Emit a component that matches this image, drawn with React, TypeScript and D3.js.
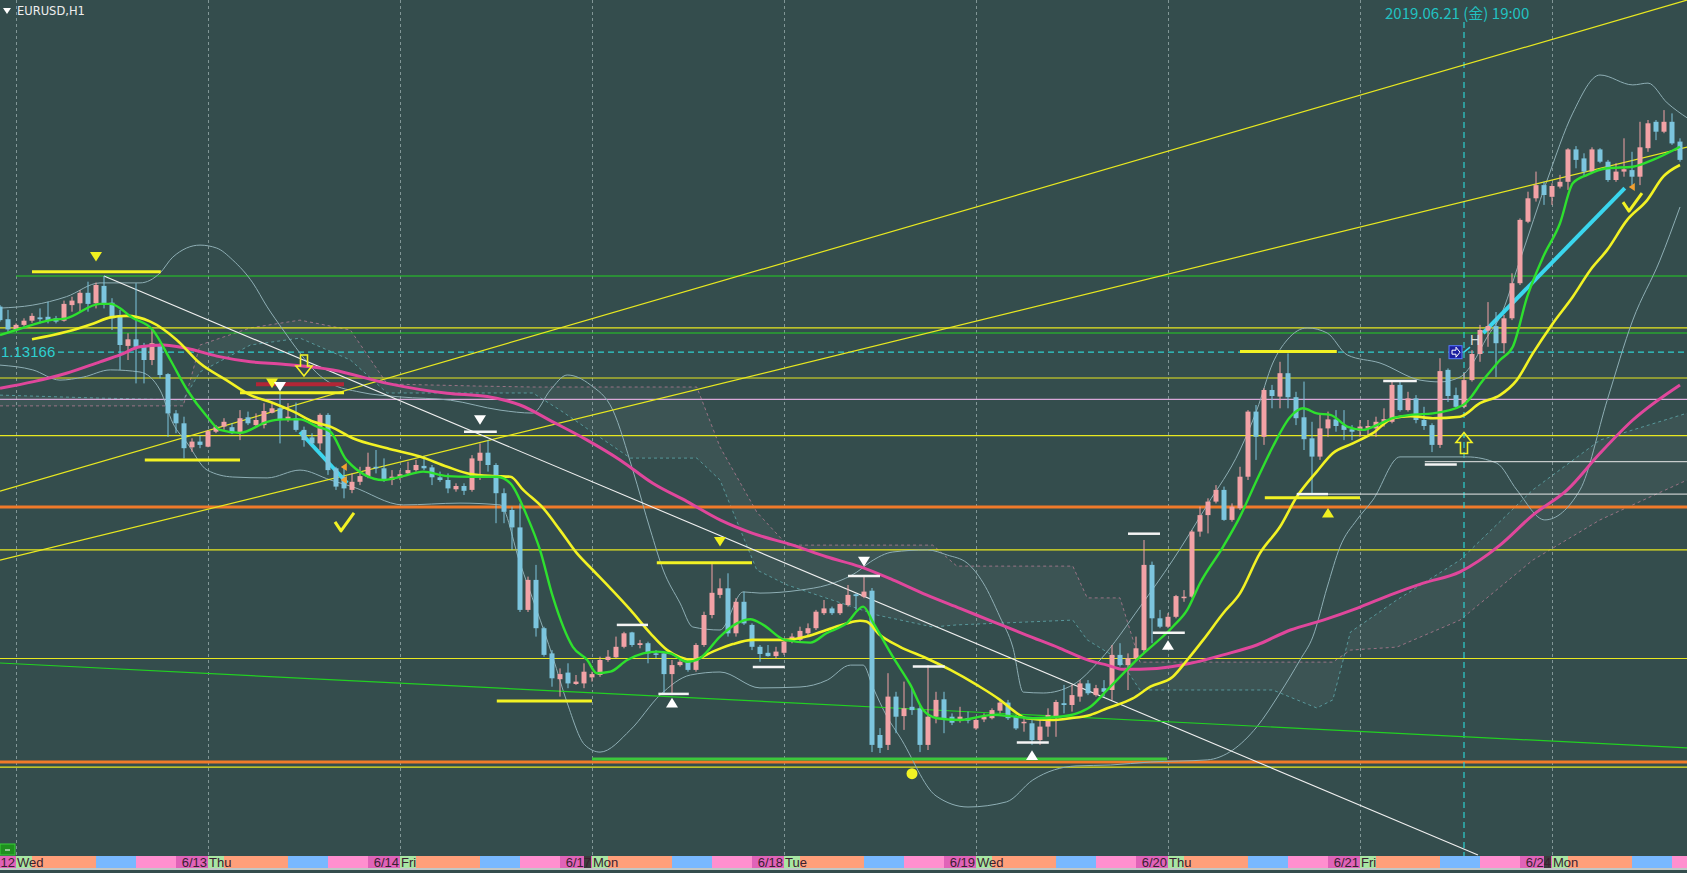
import * as d3 from 'd3';

const W = 1687;
const H = 873;
const PLOT_B = 856;
const FIRST_BAR = -2;

// O, H, L, C per hourly bar, starting at bar -2
const CANDLES: [number, number, number, number][] = [
  [1.13318,1.13323,1.13268,1.13273],[1.13276,1.13307,1.13234,1.13242],[1.13242,1.13262,1.13240,1.13257],
  [1.13257,1.13279,1.13251,1.13271],[1.13271,1.13296,1.13264,1.13287],[1.13282,1.13312,1.13262,1.13276],
  [1.13284,1.13334,1.13262,1.13273],[1.13279,1.13287,1.13262,1.13268],[1.13271,1.13338,1.13268,1.13327],
  [1.13323,1.13351,1.13301,1.13338],[1.13329,1.13373,1.13301,1.13364],[1.13364,1.13401,1.13301,1.13327],
  [1.13329,1.13398,1.13312,1.13390],[1.13387,1.13420,1.13312,1.13327],[1.13331,1.13346,1.13240,1.13279],
  [1.13284,1.13307,1.13107,1.13190],[1.13187,1.13229,1.13140,1.13209],[1.13209,1.13396,1.13062,1.13184],
  [1.13190,1.13197,1.13062,1.13140],[1.13140,1.13240,1.13123,1.13196],[1.13193,1.13196,1.13079,1.13090],
  [1.13093,1.13096,1.12884,1.12962],[1.12962,1.12973,1.12896,1.12929],[1.12929,1.12951,1.12812,1.12846],
  [1.12849,1.12879,1.12834,1.12868],[1.12868,1.12887,1.12846,1.12857],[1.12851,1.12907,1.12849,1.12903],
  [1.12901,1.12923,1.12896,1.12918],[1.12918,1.12946,1.12907,1.12934],[1.12916,1.12929,1.12893,1.12896],
  [1.12896,1.12973,1.12873,1.12946],[1.12949,1.12968,1.12923,1.12929],[1.12923,1.12962,1.12918,1.12940],
  [1.12923,1.12996,1.12912,1.12970],[1.12964,1.13001,1.12962,1.12979],[1.12979,1.13029,1.12862,1.12940],
  [1.12940,1.12996,1.12934,1.12951],[1.12946,1.12998,1.12901,1.12907],[1.12907,1.12918,1.12851,1.12873],
  [1.12882,1.12896,1.12857,1.12862],[1.12862,1.12962,1.12840,1.12957],[1.12957,1.12963,1.12757,1.12773],
  [1.12779,1.12784,1.12707,1.12718],[1.12751,1.12784,1.12679,1.12712],[1.12707,1.12762,1.12696,1.12734],
  [1.12734,1.12784,1.12723,1.12753],[1.12751,1.12831,1.12746,1.12784],[1.12784,1.12840,1.12762,1.12779],
  [1.12779,1.12812,1.12734,1.12740],[1.12740,1.12773,1.12723,1.12751],[1.12748,1.12773,1.12740,1.12759],
  [1.12762,1.12801,1.12757,1.12773],[1.12773,1.12807,1.12768,1.12790],[1.12787,1.12820,1.12773,1.12779],
  [1.12782,1.12790,1.12723,1.12749],[1.12749,1.12768,1.12734,1.12740],[1.12740,1.12762,1.12696,1.12712],
  [1.12709,1.12729,1.12701,1.12720],[1.12720,1.12729,1.12690,1.12704],[1.12707,1.12823,1.12701,1.12812],
  [1.12804,1.12862,1.12740,1.12831],[1.12831,1.12873,1.12768,1.12790],[1.12790,1.12796,1.12596,1.12696],
  [1.12696,1.12712,1.12596,1.12634],[1.12640,1.12651,1.12507,1.12582],[1.12582,1.12662,1.12300,1.12307],
  [1.12307,1.12418,1.12300,1.12407],[1.12407,1.12457,1.12218,1.12246],[1.12246,1.12251,1.12151,1.12157],
  [1.12162,1.12173,1.12051,1.12079],[1.12076,1.12112,1.12018,1.12093],[1.12098,1.12129,1.12046,1.12062],
  [1.12060,1.12090,1.12057,1.12068],[1.12062,1.12129,1.12046,1.12101],[1.12082,1.12101,1.12068,1.12093],
  [1.12090,1.12151,1.12084,1.12140],[1.12140,1.12173,1.12134,1.12151],[1.12149,1.12218,1.12146,1.12184],
  [1.12184,1.12234,1.12179,1.12229],[1.12232,1.12234,1.12184,1.12190],[1.12190,1.12207,1.12179,1.12196],
  [1.12196,1.12201,1.12129,1.12162],[1.12162,1.12173,1.12146,1.12157],[1.12162,1.12168,1.12029,1.12093],
  [1.12093,1.12140,1.12023,1.12123],[1.12123,1.12149,1.12118,1.12134],[1.12138,1.12146,1.12101,1.12107],
  [1.12107,1.12196,1.12101,1.12190],[1.12190,1.12301,1.12184,1.12290],[1.12290,1.12462,1.12279,1.12364],
  [1.12357,1.12412,1.12346,1.12379],[1.12379,1.12429,1.12218,1.12229],[1.12229,1.12346,1.12218,1.12334],
  [1.12334,1.12368,1.12257,1.12262],[1.12257,1.12262,1.12173,1.12184],[1.12184,1.12190,1.12134,1.12160],
  [1.12164,1.12190,1.12151,1.12153],[1.12153,1.12184,1.12146,1.12168],[1.12164,1.12212,1.12157,1.12201],
  [1.12201,1.12229,1.12196,1.12218],[1.12207,1.12251,1.12201,1.12237],[1.12229,1.12262,1.12223,1.12246],
  [1.12246,1.12307,1.12240,1.12301],[1.12296,1.12340,1.12290,1.12312],[1.12312,1.12318,1.12290,1.12296],
  [1.12296,1.12329,1.12290,1.12327],[1.12323,1.12390,1.12318,1.12357],[1.12359,1.12362,1.12307,1.12353],
  [1.12351,1.12418,1.12346,1.12368],[1.12371,1.12380,1.11833,1.11857],[1.11890,1.11913,1.11830,1.11847],
  [1.11857,1.12096,1.11840,1.12018],[1.12018,1.12034,1.11896,1.11951],[1.11953,1.12068,1.11907,1.11979],
  [1.11984,1.12047,1.11957,1.11973],[1.11979,1.11987,1.11833,1.11857],[1.11857,1.12123,1.11840,1.11951],
  [1.11951,1.12034,1.11929,1.12007],[1.12009,1.12034,1.11896,1.11942],[1.11951,1.11962,1.11923,1.11931],
  [1.11940,1.11984,1.11931,1.11951],[1.11946,1.11968,1.11929,1.11938],[1.11912,1.11946,1.11907,1.11940],
  [1.11942,1.11962,1.11933,1.11951],[1.11946,1.11979,1.11942,1.11973],[1.11971,1.12007,1.11962,1.11998],
  [1.11998,1.12007,1.11940,1.11946],[1.11951,1.11957,1.11907,1.11912],[1.11929,1.11946,1.11901,1.11934],
  [1.11929,1.11940,1.11857,1.11873],[1.11873,1.11940,1.11857,1.11918],[1.11918,1.11979,1.11884,1.11957],
  [1.11950,1.12007,1.11884,1.12000],[1.11996,1.12057,1.11962,1.11990],[1.11990,1.12057,1.11968,1.12023],
  [1.12018,1.12073,1.12001,1.12062],[1.12062,1.12073,1.12023,1.12029],[1.12023,1.12057,1.12018,1.12046],
  [1.12046,1.12073,1.12018,1.12034],[1.12040,1.12190,1.12007,1.12157],[1.12157,1.12196,1.12118,1.12123],
  [1.12123,1.12162,1.12040,1.12146],[1.12146,1.12218,1.12140,1.12179],[1.12173,1.12540,1.12162,1.12457],
  [1.12457,1.12468,1.12196,1.12279],[1.12279,1.12307,1.12246,1.12251],[1.12251,1.12296,1.12246,1.12284],
  [1.12284,1.12357,1.12279,1.12353],[1.12346,1.12373,1.12334,1.12351],[1.12351,1.12573,1.12346,1.12568],
  [1.12568,1.12651,1.12551,1.12623],[1.12623,1.12679,1.12562,1.12668],[1.12668,1.12723,1.12662,1.12707],
  [1.12707,1.12718,1.12604,1.12607],[1.12607,1.12662,1.12601,1.12651],[1.12646,1.12784,1.12640,1.12751],
  [1.12751,1.12973,1.12740,1.12968],[1.12968,1.12990,1.12807,1.12884],[1.12884,1.13046,1.12857,1.13040],
  [1.13040,1.13057,1.12979,1.13020],[1.13018,1.13134,1.12979,1.13096],[1.13096,1.13162,1.12979,1.13016],
  [1.13016,1.13034,1.12923,1.12946],[1.12949,1.13068,1.12840,1.12876],[1.12879,1.12934,1.12696,1.12818],
  [1.12818,1.12962,1.12807,1.12912],[1.12912,1.12968,1.12884,1.12942],[1.12942,1.12973,1.12901,1.12920],
  [1.12923,1.12973,1.12873,1.12907],[1.12909,1.12923,1.12873,1.12901],[1.12904,1.12940,1.12884,1.12918],
  [1.12912,1.12940,1.12890,1.12920],[1.12912,1.12951,1.12884,1.12934],[1.12934,1.12979,1.12918,1.12943],
  [1.12934,1.13068,1.12929,1.13057],[1.13057,1.13073,1.12968,1.12973],[1.12973,1.13034,1.12968,1.13012],
  [1.13012,1.13023,1.12929,1.12940],[1.12940,1.12984,1.12907,1.12920],[1.12923,1.12929,1.12833,1.12857],
  [1.12857,1.13146,1.12847,1.13103],[1.13107,1.13112,1.13000,1.13020],[1.13023,1.13048,1.12977,1.12984],
  [1.12984,1.13098,1.12979,1.13073],[1.13073,1.13173,1.13068,1.13160],[1.13160,1.13257,1.13134,1.13240],
  [1.13238,1.13333,1.13184,1.13253],[1.13253,1.13300,1.13083,1.13196],[1.13196,1.13290,1.13162,1.13279],
  [1.13279,1.13429,1.13273,1.13396],[1.13396,1.13612,1.13390,1.13607],[1.13601,1.13701,1.13596,1.13679],
  [1.13679,1.13768,1.13668,1.13723],[1.13723,1.13734,1.13657,1.13690],[1.13684,1.13729,1.13657,1.13720],
  [1.13718,1.13757,1.13712,1.13734],[1.13734,1.13846,1.13707,1.13842],[1.13842,1.13853,1.13779,1.13807],
  [1.13812,1.13829,1.13751,1.13768],[1.13768,1.13849,1.13762,1.13842],[1.13842,1.13846,1.13796,1.13801],
  [1.13801,1.13807,1.13734,1.13740],[1.13740,1.13796,1.13734,1.13768],[1.13768,1.13879,1.13751,1.13776],
  [1.13773,1.13834,1.13723,1.13751],[1.13751,1.13934,1.13723,1.13849],[1.13846,1.13940,1.13834,1.13929],
  [1.13934,1.13940,1.13873,1.13901],[1.13901,1.13973,1.13896,1.13934],[1.13934,1.13962,1.13857,1.13862],
  [1.13868,1.13879,1.13801,1.13807],
];

// indicator lines: [bar, price]
const GREEN_MA: [number, number][] = [
  [-2,1.13223],[0,1.13240],[4.3,1.13273],[6.3,1.13279],[10.5,1.13327],[11.8,1.13327],[14.6,1.13280],[17.1,1.13240],
  [19.3,1.13140],[21.4,1.13040],[23.9,1.12951],[25.5,1.12907],[28,1.12897],[31.4,1.12934],[33.4,1.12942],[35.5,1.12942],
  [37.6,1.12918],[39.3,1.12901],[41.3,1.12807],[45.9,1.12740],[48.4,1.12753],[50.9,1.12768],[53.9,1.12753],[56.8,1.12751],
  [60.1,1.12751],[61.8,1.12729],[63.9,1.12618],[65.5,1.12507],[67.1,1.12351],[69.6,1.12184],[71.4,1.12140],[72.6,1.12096],
  [74.3,1.12101],[76.4,1.12140],[78.4,1.12162],[80.1,1.12168],[81.8,1.12162],[83.9,1.12134],[85.5,1.12146],[88,1.12218],
  [90.1,1.12262],[91.8,1.12276],[93.4,1.12257],[96.1,1.12207],[99.3,1.12198],[101.3,1.12229],[103.8,1.12262],[105.9,1.12318],
  [107.2,1.12262],[109.6,1.12151],[111.8,1.12057],[113.4,1.11973],[115.1,1.11946],[118,1.11940],[122.1,1.11957],[124.3,1.11953],
  [127.1,1.11946],[130.5,1.11951],[132.6,1.11962],[134.3,1.11984],[136.4,1.12040],[140.5,1.12151],[144.6,1.12251],[146.4,1.12307],
  [148,1.12396],[150.9,1.12518],[153,1.12618],[155.1,1.12740],[157.1,1.12851],[159.3,1.12951],[160.9,1.12979],[162.6,1.12962],
  [164.3,1.12957],[166.4,1.12918],[168.4,1.12907],[170.1,1.12923],[172.1,1.12946],[174.3,1.12957],[177.1,1.12962],[180.9,1.12990],
  [183.4,1.13073],[185.5,1.13140],[187.1,1.13184],[188.9,1.13351],[190.9,1.13484],[193,1.13596],[194.6,1.13729],[196.4,1.13757],
  [198.9,1.13779],[202.1,1.13784],[204.6,1.13807],[208,1.13851],
];

const YELLOW_MA: [number, number][] = [
  [2,1.13209],[6.3,1.13234],[9.7,1.13262],[11.8,1.13282],[13.8,1.13287],[16.8,1.13268],[20.1,1.13207],[23,1.13129],
  [26.3,1.13073],[29.3,1.13023],[32.2,1.12996],[34.7,1.12968],[37.2,1.12934],[39.3,1.12918],[42.1,1.12879],[46.4,1.12846],
  [50.5,1.12818],[53.9,1.12784],[56.8,1.12760],[59.6,1.12753],[61.8,1.12751],[63.4,1.12707],[65.9,1.12646],[68,1.12573],
  [70.1,1.12496],[72.1,1.12440],[74.3,1.12379],[76.8,1.12307],[79.3,1.12229],[81.4,1.12173],[83,1.12149],[84.6,1.12140],
  [87.1,1.12168],[89.6,1.12193],[92.1,1.12207],[96.3,1.12207],[98.8,1.12218],[101.3,1.12240],[103.8,1.12262],[105.5,1.12271],
  [106.3,1.12268],[108,1.12223],[110.5,1.12184],[113.8,1.12146],[116.8,1.12107],[120.1,1.12057],[123,1.12007],[124.6,1.11973],
  [126.3,1.11946],[129.3,1.11940],[131.8,1.11946],[134.3,1.11957],[136.4,1.11979],[139.6,1.12012],[141.8,1.12051],[144.6,1.12084],
  [146.4,1.12140],[148.4,1.12207],[150.9,1.12296],[153,1.12362],[155.5,1.12496],[158,1.12584],[160.1,1.12684],[162.6,1.12768],
  [164.6,1.12829],[167.1,1.12862],[169.6,1.12896],[172.1,1.12946],[174.3,1.12953],[177.1,1.12946],[180.5,1.12951],[183,1.12996],
  [185.5,1.13023],[187.6,1.13073],[189.6,1.13162],[192.1,1.13262],[194.6,1.13351],[196.8,1.13440],[198.9,1.13507],[201.4,1.13607],
  [203.9,1.13673],[205.9,1.13751],[208,1.13790],
];

const MAGENTA_MA: [number, number][] = [
  [-2,1.13046],[2.2,1.13068],[6.3,1.13096],[10.5,1.13134],[13,1.13157],[15.5,1.13184],[18.4,1.13190],[21.3,1.13179],
  [25.1,1.13153],[29.3,1.13134],[33.4,1.13126],[39.6,1.13107],[46.4,1.13062],[53.9,1.13029],[58.9,1.13018],[63,1.12990],
  [67.1,1.12934],[71.4,1.12873],[75.5,1.12807],[79.6,1.12729],[83.9,1.12668],[88,1.12607],[92.1,1.12562],[97.1,1.12523],
  [101.3,1.12484],[105.5,1.12451],[109.6,1.12407],[113.8,1.12357],[118,1.12312],[122.1,1.12268],[126.3,1.12223],[130.5,1.12179],
  [134.3,1.12137],[136.4,1.12123],[138.4,1.12109],[142.6,1.12112],[146.8,1.12129],[150.9,1.12157],[155.1,1.12190],[159.3,1.12240],
  [163.4,1.12273],[167.6,1.12312],[171.8,1.12357],[175.9,1.12396],[180.5,1.12434],[185.5,1.12523],[189.6,1.12623],[193.9,1.12707],
  [198,1.12829],[202.1,1.12940],[208,1.13057],
];

const BB_UPPER: [number, number][] = [
  [-2,1.13313],[2.1,1.13323],[6.3,1.13351],[10.5,1.13397],[15.5,1.13397],[18,1.13430],[19.6,1.13483],[23,1.13523],
  [25.1,1.13513],[27.1,1.13473],[29.6,1.13397],[31.4,1.13317],[33.4,1.13240],[35.5,1.13163],[37.6,1.13097],[39.3,1.13063],
  [43,1.13033],[48,1.13017],[54.3,1.13006],[60.5,1.12973],[64.6,1.12963],[66.8,1.13040],[68.9,1.13090],[71.8,1.13057],
  [74.6,1.12973],[77.1,1.12773],[79.3,1.12573],[80.9,1.12440],[83,1.12330],[84.6,1.12250],[88,1.12240],[90.9,1.12367],
  [93,1.12363],[98,1.12373],[101.4,1.12390],[105.1,1.12433],[106.8,1.12467],[109.6,1.12500],[113.9,1.12507],[116.4,1.12490],
  [118.9,1.12463],[120.9,1.12397],[123,1.12283],[124.6,1.12183],[125.9,1.12033],[128.4,1.12030],[132.1,1.12057],[135.5,1.12140],
  [140.5,1.12317],[144.6,1.12473],[148.9,1.12657],[153,1.12840],[155.1,1.12973],[157.1,1.13130],[158.9,1.13207],[161.4,1.13247],
  [163.9,1.13230],[166.4,1.13157],[170.5,1.13130],[175.5,1.13073],[178,1.13067],[180.5,1.13083],[182.1,1.13130],[183.9,1.13217],
  [185.5,1.13283],[188,1.13473],[191.4,1.13740],[194.6,1.13963],[198,1.14090],[202.1,1.14057],[204,1.14063],[206.4,1.13997],
  [208.9,1.13947],
];

const BB_LOWER: [number, number][] = [
  [-2,1.13123],[2.1,1.13107],[5.5,1.13073],[8.4,1.13083],[11.8,1.13107],[15.5,1.13100],[18,1.13040],[19.6,1.12930],
  [21.4,1.12863],[23.9,1.12773],[27.1,1.12750],[31.4,1.12747],[35.5,1.12773],[39.3,1.12740],[42.1,1.12717],[48.4,1.12657],
  [55.5,1.12663],[60.5,1.12657],[63,1.12463],[67.1,1.12150],[68.9,1.11997],[71.1,1.11857],[73,1.11833],[76.8,1.11907],
  [80.5,1.12023],[84.3,1.12090],[88,1.12100],[93,1.12047],[98,1.12050],[101.4,1.12073],[104.3,1.12123],[105.9,1.12123],
  [107.1,1.12050],[108.9,1.11950],[110.5,1.11883],[115,1.11687],[119,1.11650],[123.8,1.11667],[127.1,1.11740],[132.5,1.11787],
  [136.8,1.11790],[141.8,1.11800],[148.9,1.11807],[152.1,1.11840],[155.1,1.11917],[158,1.12030],[160.5,1.12140],[162.1,1.12217],
  [163.9,1.12383],[165.5,1.12517],[167.6,1.12607],[169.6,1.12673],[173,1.12817],[181.4,1.12817],[185.1,1.12796],[187.6,1.12707],
  [191.1,1.12607],[195.5,1.12707],[198.9,1.13006],[202.1,1.13273],[205.5,1.13473],[208,1.13650],
];

// cloud spans (pink dotted / cyan dotted), same bar positions
const CLOUD_BARS = [-2,10.5,20.9,23,29.3,35.5,41.8,46.4,58,64.6,68,76.8,85.1,88,92.6,96.4,107.6,114.6,117.6,132.1,133.9,138,140.5,157.1,162.6,164.6,166.8,172.6,180.5,189.6,198,208.9];
const CLOUD_PINK = [1.12987,1.12987,1.12987,1.13190,1.13247,1.13273,1.13240,1.13060,1.13053,1.13050,1.13050,1.13050,1.13050,1.12850,1.12633,1.12523,1.12523,1.12523,1.12453,1.12453,1.12347,1.12347,1.12133,1.12133,1.12133,1.12133,1.12173,1.12183,1.12273,1.12473,1.12607,1.12740];
const CLOUD_CYAN = [1.13023,1.13013,1.13007,1.13100,1.13190,1.13213,1.13140,1.13030,1.13030,1.13030,1.12973,1.12813,1.12813,1.12740,1.12440,1.12390,1.12290,1.12250,1.12257,1.12273,1.12207,1.12140,1.12040,1.12040,1.11980,1.12007,1.12233,1.12340,1.12473,1.12707,1.12873,1.12963];

// horizontal lines
const H_LINES = [
  { price: 1.13420, color: '#22d022', width: 1.2, from: 0 },
  { price: 1.13247, color: '#e8e820', width: 1.2, from: -3 },
  { price: 1.13230, color: '#22d022', width: 1.2, from: -3 },
  { price: 1.13080, color: '#e8e820', width: 1.2, from: -3 },
  { price: 1.13009, color: '#d8a8d8', width: 1.2, from: -3 },
  { price: 1.12888, color: '#e8e820', width: 1.2, from: -3 },
  { price: 1.12650, color: '#f07a2a', width: 3.2, from: -3 },
  { price: 1.12507, color: '#e8e820', width: 1.2, from: -3 },
  { price: 1.12145, color: '#e8e820', width: 1.2, from: -3 },
  { price: 1.11800, color: '#f07a2a', width: 3.2, from: -3 },
  { price: 1.11783, color: '#e8e820', width: 1.2, from: -3 },
];
const CROSS_PRICE = 1.13166;
const CROSS_BAR = 181;

// trend lines: [bar1, price1, bar2, price2]
const TREND_LINES = [
  { p: [-2, 1.12703, 208.9, 1.14340], color: '#e8e820', width: 1.2 },
  { p: [-2, 1.12473, 208.9, 1.13850], color: '#e8e820', width: 1.2 },
  { p: [11, 1.13420, 182.75, 1.11490], color: '#f0f0f0', width: 1.1 },
  { p: [-2, 1.12130, 208.9, 1.11847], color: '#22d022', width: 1.2 },
  { p: [72, 1.11810, 143.9, 1.11810], color: '#3cc83c', width: 3 },
  { p: [35.5, 1.12900, 41.4, 1.12730], color: '#3ad6ee', width: 4 },
  { p: [183.4, 1.13230, 201.1, 1.13713], color: '#3ad6ee', width: 4 },
];

// short level marks: [bar1, bar2, price]
const YELLOW_MARKS: [number, number, number][] = [
  [2, 18.1, 1.13434], [16.1, 28, 1.12807], [28, 41, 1.13031], [80.1, 92, 1.12464],
  [60.1, 72, 1.12003], [153, 165.1, 1.13168], [156.1, 168, 1.12681],
];
const WHITE_MARKS: [number, number, number][] = [
  [56, 60.1, 1.12901], [75.1, 79, 1.12257], [80.3, 84.1, 1.12027], [92.1, 96.1, 1.12117],
  [104, 108, 1.12420], [112.1, 116.1, 1.12118], [125.1, 129.1, 1.11865], [139, 143, 1.12561],
  [142.1, 146.1, 1.12231], [160.1, 164, 1.12693], [170.9, 175.1, 1.13070], [176.1, 180.1, 1.12792],
];
const WHITE_RAYS: [number, number][] = [[160.1, 1.12693], [176.1, 1.12801]];
const RED_MARK: [number, number, number] = [30, 41, 1.13059];

// triangles: [bar, price, dir, color]
const TRIANGLES: [number, number, 'down' | 'up', string][] = [
  [10, 1.13484, 'down', '#f0f020'], [32, 1.13062, 'down', '#f0f020'], [33, 1.13051, 'down', '#ffffff'],
  [58, 1.12940, 'down', '#ffffff'], [88, 1.12534, 'down', '#f0f020'], [82, 1.11998, 'up', '#ffffff'],
  [106, 1.12468, 'down', '#ffffff'], [127, 1.11823, 'up', '#ffffff'], [144, 1.12190, 'up', '#ffffff'],
  [164, 1.12631, 'up', '#f0f020'],
];
const CHECKS: [number, number][] = [[41, 1.12597], [202, 1.13663]];
const OUTLINE_ARROWS: [number, number, 'down' | 'up'][] = [[36, 1.13120, 'down'], [181, 1.12865, 'up']];
const SMALL_FLAGS: [number, number][] = [[41.1, 1.12783], [41.1, 1.12740], [202.1, 1.13717]];
const DOT: [number, number] = [112, 1.11761];

const DAYS = [
  { bar: 0, date: '12', name: 'Wed', mon: false },
  { bar: 24, date: '6/13', name: 'Thu', mon: false },
  { bar: 48, date: '6/14', name: 'Fri', mon: false },
  { bar: 72, date: '6/17', name: 'Mon', mon: true },
  { bar: 96, date: '6/18', name: 'Tue', mon: false },
  { bar: 120, date: '6/19', name: 'Wed', mon: false },
  { bar: 144, date: '6/20', name: 'Thu', mon: false },
  { bar: 168, date: '6/21', name: 'Fri', mon: false },
  { bar: 192, date: '6/24', name: 'Mon', mon: true },
];
// session strip: [hours from day start, hours, colour]
const SESSIONS: [number, number, string][] = [
  [0, 2, '#a8e6a2'], [2, 8, '#ff9f7a'], [10, 5, '#78b8ff'], [15, 5, '#ff8fcf'], [20, 4, '#e063b8'],
];

const BG = '#344d4d';

export default function App() {
  const x = d3.scaleLinear().domain([0, 1]).range([16, 24]);
  const y = d3.scaleLinear().domain([1.1149, 1.1434]).range([855, 0]);
  const step = x(1) - x(0);

  const line = d3.line<[number, number]>().x((d) => x(d[0])).y((d) => y(d[1])).curve(d3.curveMonotoneX);
  const rawLine = d3.line<[number, number]>().x((d) => x(d[0])).y((d) => y(d[1]));
  const cloudArea = d3.area<number>()
    .x((_, i) => x(CLOUD_BARS[i])).y0((_, i) => y(CLOUD_PINK[i])).y1((_, i) => y(CLOUD_CYAN[i]));
  const pinkPts = CLOUD_BARS.map((b, i) => [b, CLOUD_PINK[i]] as [number, number]);
  const cyanPts = CLOUD_BARS.map((b, i) => [b, CLOUD_CYAN[i]] as [number, number]);

  const tri = (cx: number, cy: number, dir: string, s = 6) =>
    dir === 'down'
      ? `M${cx - s},${cy - s * 0.8}L${cx + s},${cy - s * 0.8}L${cx},${cy + s * 0.8}Z`
      : `M${cx - s},${cy + s * 0.8}L${cx + s},${cy + s * 0.8}L${cx},${cy - s * 0.8}Z`;
  const hollow = (cx: number, cy: number, dir: string) => {
    const s = dir === 'down' ? 1 : -1;
    return `M${cx - 3.5},${cy - 11 * s}L${cx + 3.5},${cy - 11 * s}L${cx + 3.5},${cy}L${cx + 8},${cy}L${cx},${cy + 10 * s}L${cx - 8},${cy}L${cx - 3.5},${cy}Z`;
  };

  const dayX = DAYS.map((d) => x(d.bar));
  const crossX = x(CROSS_BAR);
  const crossY = y(CROSS_PRICE);

  return (
    <svg width={W} height={H} style={{ position: 'absolute', left: 0, top: 0, background: BG }}
      fontFamily="'Liberation Sans', Arial, sans-serif">
      <defs>
        <clipPath id="plot"><rect x={0} y={0} width={W} height={PLOT_B} /></clipPath>
      </defs>
      <rect x={0} y={0} width={W} height={H} fill={BG} />
      <g clipPath="url(#plot)">
        {/* cloud */}
        <path d={cloudArea(CLOUD_BARS) ?? ''} fill="#ffffff" opacity={0.045} />
        <path d={rawLine(pinkPts) ?? ''} fill="none" stroke="#d88aa8" strokeWidth={1} strokeDasharray="3,3" opacity={0.6} />
        <path d={rawLine(cyanPts) ?? ''} fill="none" stroke="#6cc6cc" strokeWidth={1} strokeDasharray="3,3" opacity={0.6} />

        {/* day separators */}
        {dayX.map((dx, i) => (
          <line key={i} x1={dx + 0.5} x2={dx + 0.5} y1={0} y2={PLOT_B} stroke="#8fa3a3" strokeWidth={1} strokeDasharray="3,3" opacity={0.85} />
        ))}

        {/* horizontal levels */}
        {H_LINES.map((l, i) => (
          <line key={i} x1={x(l.from)} x2={W} y1={y(l.price)} y2={y(l.price)} stroke={l.color} strokeWidth={l.width} />
        ))}
        <line x1={58} x2={W} y1={crossY} y2={crossY} stroke="#2ed0d0" strokeWidth={1.2} strokeDasharray="6,4" />
        <line x1={crossX} x2={crossX} y1={22} y2={PLOT_B} stroke="#2ed0d0" strokeWidth={1.2} strokeDasharray="6,4" />

        {/* bollinger bands */}
        <path d={line(BB_UPPER) ?? ''} fill="none" stroke="#8eaeb4" strokeWidth={1} />
        <path d={line(BB_LOWER) ?? ''} fill="none" stroke="#8eaeb4" strokeWidth={1} />

        {/* trend lines */}
        {TREND_LINES.map((t, i) => (
          <line key={i} x1={x(t.p[0])} y1={y(t.p[1])} x2={x(t.p[2])} y2={y(t.p[3])} stroke={t.color} strokeWidth={t.width} />
        ))}
        {WHITE_RAYS.map((r, i) => (
          <line key={i} x1={x(r[0])} x2={W} y1={y(r[1])} y2={y(r[1])} stroke="#e8e8e8" strokeWidth={1} />
        ))}

        {/* candles */}
        {CANDLES.map((c, i) => {
          const k = FIRST_BAR + i;
          const cx = x(k);
          const bull = c[3] >= c[0];
          const col = bull ? '#f2a2a6' : '#7cc5de';
          const top = y(Math.max(c[0], c[3]));
          const bot = y(Math.min(c[0], c[3]));
          return (
            <g key={i}>
              <line x1={cx} x2={cx} y1={y(c[1])} y2={y(c[2])} stroke={col} strokeWidth={1} />
              <rect x={cx - 2.5} y={top} width={5} height={Math.max(1, bot - top)} fill={col} />
            </g>
          );
        })}

        {/* moving averages */}
        <path d={line(MAGENTA_MA) ?? ''} fill="none" stroke="#e0479c" strokeWidth={3} />
        <path d={line(YELLOW_MA) ?? ''} fill="none" stroke="#f2f224" strokeWidth={2.6} />
        <path d={line(GREEN_MA) ?? ''} fill="none" stroke="#2ee02e" strokeWidth={2.4} />

        {/* marks */}
        {YELLOW_MARKS.map((m, i) => (
          <line key={i} x1={x(m[0])} x2={x(m[1])} y1={y(m[2])} y2={y(m[2])} stroke="#f2f224" strokeWidth={3} />
        ))}
        {WHITE_MARKS.map((m, i) => (
          <line key={i} x1={x(m[0])} x2={x(m[1])} y1={y(m[2])} y2={y(m[2])} stroke="#f4f4f4" strokeWidth={2.5} />
        ))}
        <line x1={x(RED_MARK[0])} x2={x(RED_MARK[1])} y1={y(RED_MARK[2])} y2={y(RED_MARK[2])} stroke="#b32636" strokeWidth={4} />
        {TRIANGLES.map((t, i) => (
          <path key={i} d={tri(x(t[0]), y(t[1]), t[2])} fill={t[3]} />
        ))}
        {OUTLINE_ARROWS.map((a, i) => (
          <path key={i} d={hollow(x(a[0]), y(a[1]), a[2])} fill="none" stroke="#f2f224" strokeWidth={1.6} />
        ))}
        {CHECKS.map((c, i) => {
          const cx = x(c[0]), cy = y(c[1]);
          return <path key={i} d={`M${cx - 9},${cy - 1}L${cx - 3},${cy + 8}L${cx + 10},${cy - 10}`} fill="none" stroke="#f2f224" strokeWidth={3} strokeLinejoin="round" />;
        })}
        {SMALL_FLAGS.map((f, i) => {
          const cx = x(f[0]), cy = y(f[1]);
          return <path key={i} d={`M${cx - 4},${cy}L${cx + 2},${cy - 4}L${cx + 2},${cy + 4}Z`} fill="#f0a030" />;
        })}
        <circle cx={x(DOT[0])} cy={y(DOT[1])} r={5.5} fill="#f2f224" />

        {/* order marker */}
        <rect x={crossX - 15} y={crossY - 6.5} width={13} height={13} fill="#1c1fa0" stroke="#5a7cff" strokeWidth={1} />
        <path d={`M${crossX - 12},${crossY - 2}L${crossX - 8},${crossY - 2}L${crossX - 8},${crossY - 5}L${crossX - 4},${crossY}L${crossX - 8},${crossY + 5}L${crossX - 8},${crossY + 2}L${crossX - 12},${crossY + 2}Z`} fill="none" stroke="#ffffff" strokeWidth={1} />
        <line x1={crossX} y1={crossY} x2={crossX + 6} y2={crossY - 5} stroke="#3ad6ee" strokeWidth={1.5} />
        <text x={crossX + 6} y={crossY - 7} fontSize={14} fill="#dcdcdc">H</text>
      </g>

      {/* labels */}
      <path d="M3,8L11,8L7,14Z" fill="#ffffff" />
      <text x={17} y={15} fontSize={11.5} fill="#eeeeee" fontFamily="'DejaVu Sans', sans-serif">EURUSD,H1</text>
      <text x={1} y={crossY + 5} fontSize={15} fill="#2ed0d0">1.13166</text>
      <text x={1385} y={19} fontSize={15} fill="#22c2c2" fontFamily="'Noto Sans CJK JP', sans-serif">2019.06.21 (金) 19:00</text>

      {/* session strip */}
      {DAYS.flatMap((d, di) => {
        const base = [d.bar - 24, d.bar];
        return base.map((b, bi) =>
          SESSIONS.map((s, si) => (
            <rect key={`${di}-${bi}-${si}`} x={x(b + s[0])} y={PLOT_B} width={s[1] * step} height={12} fill={s[2]} />
          ))
        );
      })}
      {DAYS.map((d, i) => (d.mon ? <rect key={i} x={x(d.bar) - 8} y={PLOT_B} width={7} height={12} fill="#3c3c3c" /> : null))}
      {DAYS.map((d, i) => (
        <g key={i} fontSize={13} fill="#3a2030">
          <text x={x(d.bar) - 1} y={PLOT_B + 11} textAnchor="end">{d.date}</text>
          <text x={x(d.bar) + 1} y={PLOT_B + 11}>{d.name}</text>
        </g>
      ))}
      <line x1={0} x2={W} y1={869} y2={869} stroke="#f0f0f0" strokeWidth={1.5} />
      <rect x={0} y={844} width={15} height={11} fill="#1f8f1f" stroke="#38d038" strokeWidth={1} />
      <line x1={5} x2={10} y1={850} y2={850} stroke="#ffffff" strokeWidth={1} />
    </svg>
  );
}
